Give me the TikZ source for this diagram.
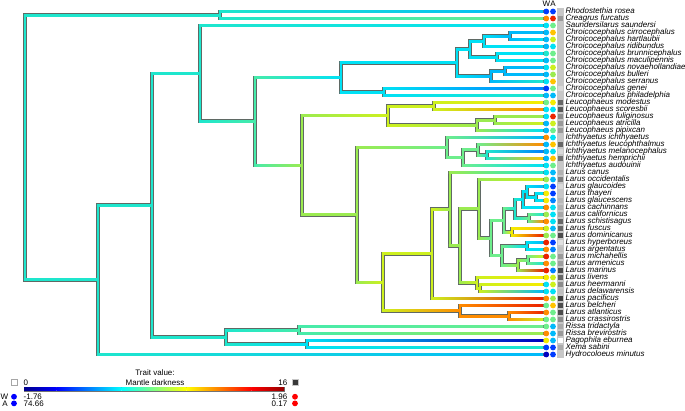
\documentclass[tikz,border=0pt]{standalone}
\usepackage{fontspec}
\setmainfont{Liberation Sans}
\usetikzlibrary{calc}
\pgfdeclarelayer{background}
\pgfsetlayers{background,main}

\definecolor{jnavy}{RGB}{0,0,190}
\definecolor{jblue}{RGB}{0,60,255}
\definecolor{jazure}{RGB}{0,130,255}
\definecolor{jsky}{RGB}{0,185,250}
\definecolor{jcyan}{RGB}{0,225,245}
\definecolor{jturq}{RGB}{30,230,205}
\definecolor{jaqua}{RGB}{70,235,170}
\definecolor{jmint}{RGB}{110,238,140}
\definecolor{jgreen}{RGB}{155,235,80}
\definecolor{jlime}{RGB}{205,240,30}
\definecolor{jyellow}{RGB}{245,235,0}
\definecolor{jgold}{RGB}{255,195,0}
\definecolor{jorange}{RGB}{255,140,0}
\definecolor{jred}{RGB}{235,35,0}
\definecolor{jdred}{RGB}{150,0,0}
\definecolor{jdblue}{RGB}{0,0,140}
\definecolor{jbcyan}{RGB}{0,255,255}
\definecolor{jbyellow}{RGB}{255,255,0}
\definecolor{jbred}{RGB}{255,0,0}
\definecolor{jbblue}{RGB}{0,0,255}
\definecolor{brgrey}{RGB}{95,105,100}

% parent, child, parent colour, child colour
\newcommand{\treebranch}[4]{%
  \begin{pgfonlayer}{background}
    \draw[brline] (#1) |- (#2);
  \end{pgfonlayer}
  \fill[#3] ($(#1)+(-1.05,0)$) rectangle ($(#1 |- #2)+(1.05,0)$);
  \shade[left color=#3, right color=#4] ($(#1 |- #2)+(-1.05,-1)$) rectangle ($(#2)+(0,1)$);
}
% id, y, name, W colour, A colour, grey
\newcommand{\treetip}[6]{%
  \coordinate (t#1) at (543,#2);
  \node[wdot, fill=#4] (w#1) at (546.3,#2) {};
  \node[wdot, fill=#5] (a#1) at (553,#2) {};
  \node[sqbox, fill=black!#6] (s#1) at (559.8,#2) {};
  \node[taxon] (lab#1) at (565.3,{#2+2.4}) {#3};
}

\begin{document}
\begin{tikzpicture}[x=1pt, y=-1pt,
  brline/.style={draw=brgrey, line width=3.6pt, line cap=rect, line join=miter},
  wdot/.style={circle, inner sep=0pt, minimum size=5.8pt},
  sqbox/.style={rectangle, draw=black!22, line width=0.3pt, inner sep=0pt, minimum size=5.8pt},
  taxon/.style={anchor=base west, inner sep=0pt, font=\fontsize{8}{8}\selectfont\itshape},
  legtext/.style={inner sep=0pt, font=\fontsize{8}{8}\selectfont}]
\useasboundingbox (0,0) rectangle (685,410);

\coordinate (nroot) at (25,147.4);
\coordinate (nrc) at (220,15);
\coordinate (nlow) at (98,279.9);
\coordinate (nmain) at (152,205.2);
\coordinate (nbot) at (226,337);
\coordinate (nris) at (299,330);
\coordinate (npx) at (307,344);
\coordinate (nsau) at (200,73.4);
\coordinate (ncore) at (255,121.25);
\coordinate (nchr) at (341,77.4);
\coordinate (ngp) at (384,92);
\coordinate (nchA) at (457,62.7);
\coordinate (nch1) at (470,49.1);
\coordinate (nch2) at (491,76.25);
\coordinate (n456) at (484,41.25);
\coordinate (n45) at (510,36);
\coordinate (n78) at (497,57);
\coordinate (n910) at (505,71);
\coordinate (nlar) at (302,165.3);
\coordinate (nleu) at (388,115.6);
\coordinate (nmod) at (434,106);
\coordinate (nful) at (477,125.25);
\coordinate (n1617) at (495,120);
\coordinate (nlx) at (357,214.9);
\coordinate (nich) at (447,147.55);
\coordinate (ni2) at (463,157.6);
\coordinate (ni3) at (478,149.75);
\coordinate (ni4) at (487,155);
\coordinate (nlarus) at (383,282.3);
\coordinate (nbel) at (460,310.75);
\coordinate (n4445) at (509,316);
\coordinate (nla) at (432,253.8);
\coordinate (nlb) at (450,209.1);
\coordinate (nlc) at (460,245.75);
\coordinate (nld) at (479,208.75);
\coordinate (nle) at (491,238);
\coordinate (nlf) at (504,220.4);
\coordinate (nlh) at (515,208.8);
\coordinate (nli) at (523,199.6);
\coordinate (nlj) at (527,191.75);
\coordinate (n2728) at (536,197);
\coordinate (n3031) at (529,218);
\coordinate (n3233) at (512,232);
\coordinate (nlg) at (502,255.6);
\coordinate (n3435) at (527,246);
\coordinate (nlk) at (518,265.25);
\coordinate (n3637) at (528,260);
\coordinate (nliv) at (477,282.75);
\coordinate (n4041) at (480,288);

\treetip{01}{11.5}{Rhodostethia rosea}{jblue}{jblue}{22}
\treetip{02}{18.5}{Creagrus furcatus}{jorange}{jred}{40}
\treetip{03}{25.5}{Saundersilarus saundersi}{jcyan}{jmint}{22}
\treetip{04}{32.5}{Chroicocephalus cirrocephalus}{jsky}{jgold}{22}
\treetip{05}{39.5}{Chroicocephalus hartlaubii}{jsky}{jlime}{22}
\treetip{06}{46.5}{Chroicocephalus ridibundus}{jsky}{jcyan}{22}
\treetip{07}{53.5}{Chroicocephalus brunnicephalus}{jturq}{jmint}{22}
\treetip{08}{60.5}{Chroicocephalus maculipennis}{jsky}{jmint}{22}
\treetip{09}{67.5}{Chroicocephalus novaehollandiae}{jcyan}{jlime}{22}
\treetip{10}{74.5}{Chroicocephalus bulleri}{jsky}{jgreen}{22}
\treetip{11}{81.5}{Chroicocephalus serranus}{jcyan}{jgold}{22}
\treetip{12}{88.5}{Chroicocephalus genei}{jblue}{jmint}{15}
\treetip{13}{95.5}{Chroicocephalus philadelphia}{jsky}{jsky}{22}
\treetip{14}{102.5}{Leucophaeus modestus}{jmint}{jyellow}{60}
\treetip{15}{109.5}{Leucophaeus scoresbii}{jcyan}{jcyan}{65}
\treetip{16}{116.5}{Leucophaeus fuliginosus}{jcyan}{jred}{45}
\treetip{17}{123.5}{Leucophaeus atricilla}{jsky}{jlime}{40}
\treetip{18}{130.5}{Leucophaeus pipixcan}{jsky}{jmint}{40}
\treetip{19}{137.5}{Ichthyaetus ichthyaetus}{jorange}{jcyan}{22}
\treetip{20}{144.5}{Ichthyaetus leucophthalmus}{jsky}{jgold}{60}
\treetip{21}{151.5}{Ichthyaetus melanocephalus}{jsky}{jcyan}{15}
\treetip{22}{158.5}{Ichthyaetus hemprichii}{jsky}{jgold}{55}
\treetip{23}{165.5}{Ichthyaetus audouinii}{jcyan}{jmint}{22}
\treetip{24}{172.5}{Larus canus}{jcyan}{jsky}{30}
\treetip{25}{179.5}{Larus occidentalis}{jgreen}{jsky}{50}
\treetip{26}{186.5}{Larus glaucoides}{jcyan}{jblue}{15}
\treetip{27}{193.5}{Larus thayeri}{jyellow}{jblue}{22}
\treetip{28}{200.5}{Larus glaucescens}{jyellow}{jazure}{28}
\treetip{29}{207.5}{Larus cachinnans}{jorange}{jcyan}{30}
\treetip{30}{214.5}{Larus californicus}{jgreen}{jcyan}{35}
\treetip{31}{221.5}{Larus schistisagus}{jorange}{jcyan}{60}
\treetip{32}{228.5}{Larus fuscus}{jlime}{jsky}{60}
\treetip{33}{235.5}{Larus dominicanus}{jgreen}{jmint}{70}
\treetip{34}{242.5}{Larus hyperboreus}{jred}{jblue}{12}
\treetip{35}{249.5}{Larus argentatus}{jorange}{jazure}{25}
\treetip{36}{256.5}{Larus michahellis}{jred}{jmint}{40}
\treetip{37}{263.5}{Larus armenicus}{jorange}{jmint}{38}
\treetip{38}{270.5}{Larus marinus}{jred}{jazure}{70}
\treetip{39}{277.5}{Larus livens}{jyellow}{jlime}{60}
\treetip{40}{284.5}{Larus heermanni}{jcyan}{jlime}{45}
\treetip{41}{291.5}{Larus delawarensis}{jcyan}{jcyan}{25}
\treetip{42}{298.5}{Larus pacificus}{jorange}{jgreen}{75}
\treetip{43}{305.5}{Larus belcheri}{jmint}{jgold}{70}
\treetip{44}{312.5}{Larus atlanticus}{jorange}{jmint}{70}
\treetip{45}{319.5}{Larus crassirostris}{jmint}{jmint}{45}
\treetip{46}{326.5}{Rissa tridactyla}{jmint}{jsky}{33}
\treetip{47}{333.5}{Rissa brevirostris}{jorange}{jsky}{40}
\treetip{48}{340.5}{Pagophila eburnea}{jyellow}{jsky}{0}
\treetip{49}{347.5}{Xema sabini}{jblue}{jblue}{33}
\treetip{50}{354.5}{Hydrocoloeus minutus}{jnavy}{jblue}{22}

\treebranch{nroot}{nrc}{jturq}{jturq}
\treebranch{nroot}{nlow}{jturq}{jturq}
\treebranch{nrc}{t01}{jturq}{jsky}
\treebranch{nrc}{t02}{jturq}{jmint}
\treebranch{nlow}{nmain}{jturq}{jturq}
\treebranch{nlow}{t50}{jturq}{jsky}
\treebranch{nmain}{nsau}{jturq}{jturq}
\treebranch{nmain}{nbot}{jturq}{jturq}
\treebranch{nbot}{nris}{jturq}{jaqua}
\treebranch{nbot}{npx}{jturq}{jcyan}
\treebranch{nris}{t46}{jaqua}{jmint}
\treebranch{nris}{t47}{jaqua}{jgreen}
\treebranch{npx}{t48}{jcyan}{jnavy}
\treebranch{npx}{t49}{jcyan}{jturq}
\treebranch{nsau}{t03}{jturq}{jcyan}
\treebranch{nsau}{ncore}{jturq}{jaqua}
\treebranch{ncore}{nchr}{jaqua}{jcyan}
\treebranch{ncore}{nlar}{jaqua}{jgreen}
\treebranch{nchr}{nchA}{jcyan}{jcyan}
\treebranch{nchr}{ngp}{jcyan}{jcyan}
\treebranch{ngp}{t12}{jcyan}{jazure}
\treebranch{ngp}{t13}{jcyan}{jturq}
\treebranch{nchA}{nch1}{jcyan}{jcyan}
\treebranch{nchA}{nch2}{jcyan}{jsky}
\treebranch{nch1}{n456}{jcyan}{jcyan}
\treebranch{nch1}{n78}{jcyan}{jcyan}
\treebranch{n456}{n45}{jcyan}{jsky}
\treebranch{n456}{t06}{jcyan}{jcyan}
\treebranch{n45}{t04}{jsky}{jsky}
\treebranch{n45}{t05}{jsky}{jcyan}
\treebranch{n78}{t07}{jcyan}{jcyan}
\treebranch{n78}{t08}{jcyan}{jcyan}
\treebranch{nch2}{n910}{jsky}{jsky}
\treebranch{nch2}{t11}{jsky}{jturq}
\treebranch{n910}{t09}{jsky}{jsky}
\treebranch{n910}{t10}{jsky}{jsky}
\treebranch{nlar}{nleu}{jgreen}{jlime}
\treebranch{nlar}{nlx}{jgreen}{jgreen}
\treebranch{nleu}{nmod}{jlime}{jlime}
\treebranch{nleu}{nful}{jlime}{jgreen}
\treebranch{nmod}{t14}{jlime}{jyellow}
\treebranch{nmod}{t15}{jlime}{jorange}
\treebranch{nful}{n1617}{jgreen}{jgreen}
\treebranch{nful}{t18}{jgreen}{jcyan}
\treebranch{n1617}{t16}{jgreen}{jgreen}
\treebranch{n1617}{t17}{jgreen}{jlime}
\treebranch{nlx}{nich}{jgreen}{jmint}
\treebranch{nlx}{nlarus}{jgreen}{jlime}
\treebranch{nich}{t19}{jmint}{jsky}
\treebranch{nich}{ni2}{jmint}{jmint}
\treebranch{ni2}{ni3}{jmint}{jmint}
\treebranch{ni2}{t23}{jmint}{jcyan}
\treebranch{ni3}{t20}{jmint}{jorange}
\treebranch{ni3}{ni4}{jmint}{jturq}
\treebranch{ni4}{t21}{jturq}{jazure}
\treebranch{ni4}{t22}{jturq}{jgold}
\treebranch{nlarus}{nla}{jlime}{jlime}
\treebranch{nlarus}{nbel}{jlime}{jorange}
\treebranch{nbel}{t43}{jorange}{jred}
\treebranch{nbel}{n4445}{jorange}{jorange}
\treebranch{n4445}{t44}{jorange}{jred}
\treebranch{n4445}{t45}{jorange}{jlime}
\treebranch{nla}{nlb}{jlime}{jgreen}
\treebranch{nla}{t42}{jlime}{jred}
\treebranch{nlb}{t24}{jgreen}{jturq}
\treebranch{nlb}{nlc}{jgreen}{jgreen}
\treebranch{nlc}{nld}{jgreen}{jgreen}
\treebranch{nlc}{nliv}{jgreen}{jlime}
\treebranch{nld}{t25}{jgreen}{jlime}
\treebranch{nld}{nle}{jgreen}{jmint}
\treebranch{nle}{nlf}{jmint}{jmint}
\treebranch{nle}{nlg}{jmint}{jmint}
\treebranch{nlf}{nlh}{jmint}{jturq}
\treebranch{nlf}{n3233}{jmint}{jyellow}
\treebranch{nlh}{nli}{jturq}{jcyan}
\treebranch{nlh}{n3031}{jturq}{jmint}
\treebranch{nli}{nlj}{jcyan}{jcyan}
\treebranch{nli}{t29}{jcyan}{jcyan}
\treebranch{nlj}{t26}{jcyan}{jsky}
\treebranch{nlj}{n2728}{jcyan}{jcyan}
\treebranch{n2728}{t27}{jcyan}{jcyan}
\treebranch{n2728}{t28}{jcyan}{jcyan}
\treebranch{n3031}{t30}{jmint}{jturq}
\treebranch{n3031}{t31}{jmint}{jorange}
\treebranch{n3233}{t32}{jyellow}{jgold}
\treebranch{n3233}{t33}{jyellow}{jred}
\treebranch{nlg}{n3435}{jmint}{jcyan}
\treebranch{nlg}{nlk}{jmint}{jgreen}
\treebranch{n3435}{t34}{jcyan}{jsky}
\treebranch{n3435}{t35}{jcyan}{jcyan}
\treebranch{nlk}{n3637}{jgreen}{jmint}
\treebranch{nlk}{t38}{jgreen}{jred}
\treebranch{n3637}{t36}{jmint}{jlime}
\treebranch{n3637}{t37}{jmint}{jturq}
\treebranch{nliv}{t39}{jlime}{jyellow}
\treebranch{nliv}{n4041}{jlime}{jlime}
\treebranch{n4041}{t40}{jlime}{jyellow}
\treebranch{n4041}{t41}{jlime}{jsky}

\node[legtext, anchor=base] (hw) at (546.3,6.8) {W};
\node[legtext, anchor=base] (ha) at (553,6.8) {A};

\node[legtext] (ttl) at (155,372.7) {Trait value:};
\node[legtext] (mdk) at (155,382.7) {Mantle darkness};
\node[sqbox, fill=white, draw=black!35] (sq0) at (14,382.3) {};
\node[legtext, anchor=west] (v0) at (23.5,382.3) {0};
\node[sqbox, fill=black!78] (sq16) at (295,382.3) {};
\node[legtext, anchor=east] (v16) at (287.5,382.3) {16};
\draw[black!55, line width=0.8pt] (24,387.5) rectangle (284,391);
\shade[left color=jdblue, right color=jbblue] (24,387.8) rectangle (56.5,390.7);
\shade[left color=jbblue, right color=jbcyan] (56.5,387.8) rectangle (121.5,390.7);
\shade[left color=jbcyan, right color=jbyellow] (121.5,387.8) rectangle (186.5,390.7);
\shade[left color=jbyellow, right color=jbred] (186.5,387.8) rectangle (251.5,390.7);
\shade[left color=jbred, right color=jdred] (251.5,387.8) rectangle (284,390.7);

\node[legtext] (lw) at (4.5,396.7) {W};
\node[wdot, fill=jbblue] (lwlo) at (14,396.7) {};
\node[legtext, anchor=west] (wlo) at (23.5,396.7) {-1.76};
\node[legtext, anchor=east] (whi) at (287.5,396.7) {1.96};
\node[wdot, fill=jbred] (lwhi) at (295,396.7) {};
\node[legtext] (la) at (5,403.4) {A};
\node[wdot, fill=jbblue] (lalo) at (14,403.4) {};
\node[legtext, anchor=west] (alo) at (23.5,403.4) {74.66};
\node[legtext, anchor=east] (ahi) at (287.5,403.4) {0.17};
\node[wdot, fill=jbred] (lahi) at (295,403.4) {};
\end{tikzpicture}
\end{document}
